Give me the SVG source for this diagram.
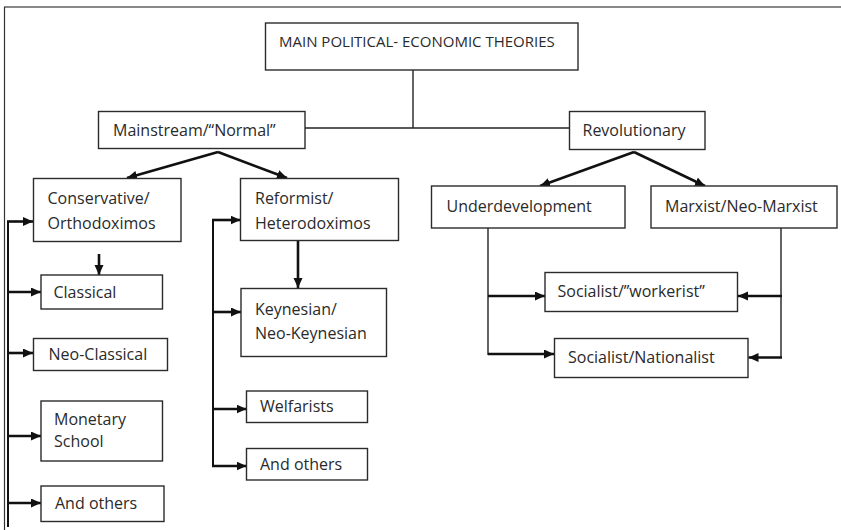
<svg xmlns="http://www.w3.org/2000/svg" width="841" height="530" viewBox="0 0 841 530">
<defs>
<marker id="ah" markerUnits="userSpaceOnUse" markerWidth="11" markerHeight="10" refX="10" refY="4.5" orient="auto">
<path d="M0,0 L10,4.5 L0,9 z" fill="#111"/>
</marker>
<style>
.box{fill:#fff;stroke:#2b2b2b;stroke-width:1.4}
.t{font-family:"Open Sans","Liberation Sans",sans-serif;font-size:16px;fill:#2a2a2a}
.title{font-size:15px}
.thin{fill:none;stroke:#222;stroke-width:1.4}
.bus{fill:none;stroke:#111;stroke-width:2}
.arr{fill:none;stroke:#111;stroke-width:2.6;marker-end:url(#ah)}
.frame{fill:none;stroke:#888;stroke-width:2}
</style>
</defs>
<rect width="841" height="530" fill="#fff"/>
<g id="frame">
<line class="frame" x1="4" y1="7" x2="841" y2="7"/>
<line x1="4.5" y1="7" x2="4.5" y2="530" stroke="#333" stroke-width="1.2"/>
</g>
<g id="connectors">
<line class="thin" x1="413" y1="70" x2="413" y2="128"/>
<line class="thin" x1="305" y1="128" x2="569" y2="128"/>
<path class="arr" d="M218,152 L127,178"/>
<path class="arr" d="M218,152 L287,178"/>
<path class="arr" d="M634,152 L540,186"/>
<path class="arr" d="M634,152 L705,186"/>
<line class="bus" x1="8" y1="221" x2="8" y2="527"/>
<path class="arr" d="M7,221.5 L33,221.5"/>
<path class="arr" d="M7,292 L41,292"/>
<path class="arr" d="M7,353 L33,353"/>
<path class="arr" d="M7,436 L41,436"/>
<path class="arr" d="M7,503 L41,503"/>
<path class="arr" d="M99,254 L99,275"/>
<line class="bus" x1="213" y1="219" x2="213" y2="467"/>
<path class="arr" d="M212,220 L240.5,220"/>
<path class="arr" d="M212,312 L241,312"/>
<path class="arr" d="M212,409 L246.5,409"/>
<path class="arr" d="M212,466 L246.5,466"/>
<path class="arr" d="M298,241 L298,288"/>
<line class="thin" x1="488" y1="228" x2="488" y2="355"/>
<path class="arr" d="M488,296 L545,296"/>
<path class="arr" d="M488,354 L554,354"/>
<line class="thin" x1="781" y1="228" x2="781" y2="358"/>
<path class="arr" d="M782,296 L738,296"/>
<path class="arr" d="M782,357.5 L748.5,357.5"/>
</g>
<g id="n-main">
<rect class="box" x="265.5" y="23" width="312.5" height="47"/>
<text class="t title" x="279" y="47">MAIN POLITICAL- ECONOMIC THEORIES</text>
</g>
<g id="n-mainstream">
<rect class="box" x="98.5" y="111.5" width="206.5" height="37"/>
<text class="t" x="113" y="136">Mainstream/“Normal”</text>
</g>
<g id="n-revolutionary">
<rect class="box" x="569.5" y="111.5" width="135.5" height="38"/>
<text class="t" x="582.5" y="136">Revolutionary</text>
</g>
<g id="n-conservative">
<rect class="box" x="33.5" y="178.5" width="147.5" height="63"/>
<text class="t" x="47.5" y="204">Conservative/</text>
<text class="t" x="47.5" y="228.5">Orthodoximos</text>
</g>
<g id="n-reformist">
<rect class="box" x="240.5" y="178.5" width="158" height="62"/>
<text class="t" x="255" y="204">Reformist/</text>
<text class="t" x="255" y="228.5">Heterodoximos</text>
</g>
<g id="n-underdevelopment">
<rect class="box" x="431.5" y="186" width="193.5" height="42"/>
<text class="t" x="446.5" y="212">Underdevelopment</text>
</g>
<g id="n-marxist">
<rect class="box" x="651" y="186" width="186" height="42"/>
<text class="t" x="665" y="212">Marxist/Neo-Marxist</text>
</g>
<g id="n-classical">
<rect class="box" x="41" y="275" width="121.5" height="34"/>
<text class="t" x="53.5" y="298">Classical</text>
</g>
<g id="n-neoclassical">
<rect class="box" x="33.5" y="338.5" width="134" height="32"/>
<text class="t" x="48.5" y="360">Neo-Classical</text>
</g>
<g id="n-monetary">
<rect class="box" x="41" y="401" width="121.5" height="60"/>
<text class="t" x="54" y="425">Monetary</text>
<text class="t" x="54" y="447">School</text>
</g>
<g id="n-others-left">
<rect class="box" x="41" y="486" width="123" height="35.5"/>
<text class="t" x="55" y="509">And others</text>
</g>
<g id="n-keynesian">
<rect class="box" x="241" y="288.5" width="145.5" height="68"/>
<text class="t" x="255" y="315">Keynesian/</text>
<text class="t" x="255" y="339">Neo-Keynesian</text>
</g>
<g id="n-welfarists">
<rect class="box" x="246.5" y="391" width="121" height="31.5"/>
<text class="t" x="260" y="412">Welfarists</text>
</g>
<g id="n-others-mid">
<rect class="box" x="246.5" y="448.5" width="121" height="31.5"/>
<text class="t" x="260" y="470">And others</text>
</g>
<g id="n-workerist">
<rect class="box" x="545" y="272.5" width="192.5" height="39"/>
<text class="t" x="557.5" y="297">Socialist/”workerist”</text>
</g>
<g id="n-nationalist">
<rect class="box" x="554.5" y="338.5" width="193.5" height="39"/>
<text class="t" x="568" y="363">Socialist/Nationalist</text>
</g>
</svg>
